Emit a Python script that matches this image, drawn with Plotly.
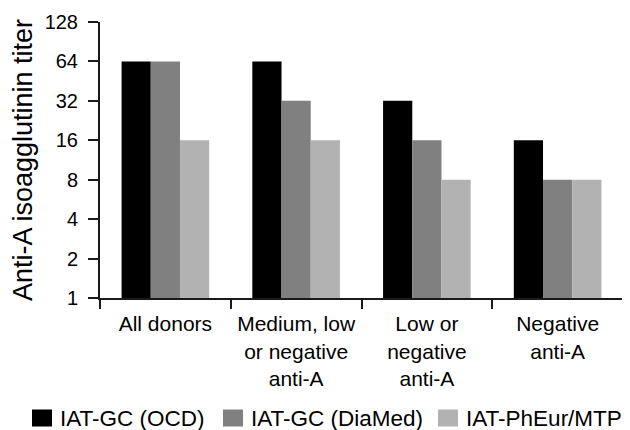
import plotly.graph_objects as go

categories = ["All donors", "Medium, low<br>or negative<br>anti-A", "Low or<br>negative<br>anti-A", "Negative<br>anti-A"]
series_names = ["IAT-GC (OCD)", "IAT-GC (DiaMed)", "IAT-PhEur/MTP"]
ocd = [64, 64, 32, 16]
diamed = [64, 32, 16, 8]
pheur = [16, 16, 8, 8]
y_ticks = [1, 2, 4, 8, 16, 32, 64, 128]

colors = ["#000000", "#808080", "#b2b2b2"]
values = [ocd, diamed, pheur]

W, H = 622, 422
ML, MR, MT, MB = 92, 7, 14, 132
PW, PH = W - ML - MR, H - MT - MB

fig = go.Figure()
for name, vals, col in zip(series_names, values, colors):
    fig.add_trace(go.Bar(x=categories, y=vals, name=name, marker=dict(color=col, line=dict(width=0)),
                         showlegend=False))

font = "Liberation Sans, Arial, sans-serif"

# custom one-row legend (plotly's own legend wraps at this font size)
legend_swatch_left_px = [24, 215, 430]
swatch_w, swatch_h = 20, 17
legend_center_px = 410


def px_x(p):
    return (p - ML) / PW


def px_y(p):
    return (MT + PH - p) / PH


for name, col, left in zip(series_names, colors, legend_swatch_left_px):
    fig.add_shape(type="rect", xref="paper", yref="paper",
                  x0=px_x(left), x1=px_x(left + swatch_w),
                  y0=px_y(legend_center_px + swatch_h / 2), y1=px_y(legend_center_px - swatch_h / 2),
                  fillcolor=col, line=dict(width=0), layer="above")
    fig.add_annotation(text=name, xref="paper", yref="paper",
                       x=px_x(left + swatch_w + 7), y=px_y(legend_center_px),
                       xanchor="left", yanchor="middle", showarrow=False,
                       font=dict(size=22.5, family=font, color="#000000"), borderpad=0)

fig.update_layout(
    width=W, height=H,
    margin=dict(l=ML, r=MR, t=MT, b=MB, autoexpand=False),
    paper_bgcolor="white", plot_bgcolor="white",
    barmode="group", bargap=0.33, bargroupgap=0,
    font=dict(family=font, color="#000000"),
    showlegend=False,
)
fig.update_xaxes(
    showline=True, linecolor="#1a1a1a", linewidth=2,
    ticks="outside", ticklen=9, tickwidth=2, tickcolor="#1a1a1a",
    tickson="boundaries", tickfont=dict(size=21, family=font), ticklabelstandoff=6,
    showgrid=False, range=[-0.5, 3.5],
)
fig.update_yaxes(
    type="log", range=[0, 2.10721], tickvals=y_ticks, ticktext=[str(v) for v in y_ticks],
    showline=True, linecolor="#1a1a1a", linewidth=2,
    ticks="outside", ticklen=10, tickwidth=2, tickcolor="#1a1a1a",
    tickfont=dict(size=20, family=font), ticklabelstandoff=6, showgrid=False, zeroline=False,
    title=dict(text="Anti-A isoagglutinin titer", font=dict(size=27, family=font), standoff=4),
)
fig.write_html("out.html")
